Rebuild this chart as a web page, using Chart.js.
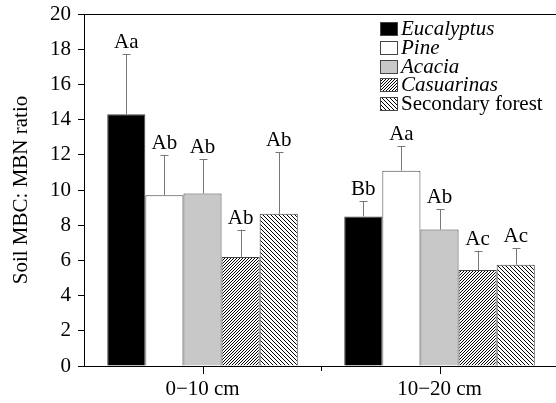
<!DOCTYPE html>
<html>
<head>
<meta charset="utf-8">
<script src="https://cdn.jsdelivr.net/npm/chart.js@4/dist/chart.umd.min.js"></script>
<style>
  html, body { margin: 0; padding: 0; background: #fff; overflow: hidden; }
  #wrap { width: 558px; height: 403px; }
</style>
</head>
<body>
<div id="wrap"><canvas id="mbcChart" width="558" height="403"></canvas></div>
<script>
const depths = ['0\u221210 cm', '10\u221220 cm'];
const species = ['Eucalyptus', 'Pine', 'Acacia', 'Casuarinas', 'Secondary forest'];
const italicNames = [true, true, true, true, false];
const eucalyptus = [14.3, 8.5];
const pine = [9.7, 11.1];
const acacia = [9.8, 7.75];
const casuarinas = [6.2, 5.45];
const secondary = [8.65, 5.75];
const eucalyptusErr = [3.4, 0.85];
const pineErr = [2.3, 1.4];
const acaciaErr = [1.95, 1.15];
const casuarinasErr = [1.55, 1.1];
const secondaryErr = [3.5, 0.95];
const eucalyptusSig = ['Aa', 'Bb'];
const pineSig = ['Ab', 'Aa'];
const acaciaSig = ['Ab', 'Ab'];
const casuarinasSig = ['Ab', 'Ac'];
const secondarySig = ['Ab', 'Ac'];
const yTicks = [0, 2, 4, 6, 8, 10, 12, 14, 16, 18, 20];

const FONT = '"Liberation Serif", "Times New Roman", serif';

document.addEventListener('DOMContentLoaded', function () {
  initChart();
});

function makeHatch(size, forward) {
  const c = document.createElement('canvas');
  c.width = size;
  c.height = size;
  const g = c.getContext('2d');
  g.fillStyle = '#fff';
  g.fillRect(0, 0, size, size);
  g.strokeStyle = '#000';
  g.lineWidth = 1;
  g.beginPath();
  if (forward) {
    g.moveTo(0, size);
    g.lineTo(size, 0);
    g.moveTo(-1, 1);
    g.lineTo(1, -1);
    g.moveTo(size - 1, size + 1);
    g.lineTo(size + 1, size - 1);
  } else {
    g.moveTo(0, 0);
    g.lineTo(size, size);
    g.moveTo(size - 1, -1);
    g.lineTo(size + 1, 1);
    g.moveTo(-1, size - 1);
    g.lineTo(1, size + 1);
  }
  g.stroke();
  return g.createPattern(c, 'repeat');
}

function initChart() {
  const ctx = document.getElementById('mbcChart').getContext('2d');
  const fills = ['#000', '#fff', '#c8c8c8', makeHatch(3, true), makeHatch(4, false)];
  const values = [eucalyptus, pine, acacia, casuarinas, secondary];
  const errors = [eucalyptusErr, pineErr, acaciaErr, casuarinasErr, secondaryErr];
  const sigs = [eucalyptusSig, pineSig, acaciaSig, casuarinasSig, secondarySig];

  const datasets = species.map(function (name, i) {
    return {
      label: name,
      data: values[i],
      errors: errors[i],
      sigs: sigs[i],
      backgroundColor: fills[i],
      borderColor: '#444',
      borderWidth: 1,
      borderSkipped: 'bottom',
      categoryPercentage: 0.804,
      barPercentage: 1,
    };
  });

  const extras = {
    id: 'extras',
    afterDatasetsDraw: function (chart) {
      const c = chart.ctx;
      const y = chart.scales.y;
      const area = chart.chartArea;

      // error bars and letters
      chart.data.datasets.forEach(function (ds, di) {
        const meta = chart.getDatasetMeta(di);
        meta.data.forEach(function (bar, j) {
          const top = y.getPixelForValue(ds.data[j] + ds.errors[j]);
          const bx = Math.round(bar.x) + 0.5;
          c.save();
          c.strokeStyle = '#777';
          c.lineWidth = 1;
          c.beginPath();
          c.moveTo(bx, bar.y);
          c.lineTo(bx, top);
          c.moveTo(bx - 4, Math.round(top) + 0.5);
          c.lineTo(bx + 4, Math.round(top) + 0.5);
          c.stroke();
          c.fillStyle = '#000';
          c.font = '21px ' + FONT;
          c.textAlign = 'center';
          c.textBaseline = 'alphabetic';
          c.fillText(ds.sigs[j], bar.x, top - 6);
          c.restore();
        });
      });

      // top frame line
      c.save();
      c.strokeStyle = '#000';
      c.lineWidth = 1;
      c.beginPath();
      c.moveTo(area.left, Math.round(area.top) + 0.5);
      c.lineTo(area.right, Math.round(area.top) + 0.5);
      c.stroke();

      // x ticks: category centres and the boundary between them
      const x = chart.scales.x;
      c.beginPath();
      depths.forEach(function (d, i) {
        const px = Math.round(x.getPixelForValue(i)) + 0.5;
        c.moveTo(px, area.bottom);
        c.lineTo(px, area.bottom + 8);
      });
      const mid = Math.round((x.getPixelForValue(0) + x.getPixelForValue(1)) / 2) + 0.5;
      c.moveTo(mid, area.bottom);
      c.lineTo(mid, area.bottom + 5);
      c.stroke();
      c.restore();

      // legend
      c.save();
      const lx = 380;
      const rowTop = [22, 41, 60, 78, 97];
      chart.data.datasets.forEach(function (ds, di) {
        const ty = rowTop[di];
        c.fillStyle = ds.backgroundColor;
        c.fillRect(lx, ty, 18, 14);
        c.strokeStyle = '#444';
        c.lineWidth = 1;
        c.strokeRect(lx + 0.5, ty + 0.5, 17, 13);
        c.fillStyle = '#000';
        c.font = (italicNames[di] ? 'italic ' : '') + '21px ' + FONT;
        c.textAlign = 'left';
        c.textBaseline = 'alphabetic';
        c.fillText(ds.label, lx + 21, ty + 13);
      });
      c.restore();
    },
  };

  new Chart(ctx, {
    type: 'bar',
    data: {
      labels: depths,
      datasets: datasets,
    },
    options: {
      responsive: false,
      animation: false,
      layout: { padding: { top: 14, right: 0, left: 0, bottom: 0 } },
      plugins: {
        legend: { display: false },
        tooltip: { enabled: false },
      },
      scales: {
        x: {
          grid: { display: false, drawTicks: false },
          border: { display: true, color: '#000', width: 1 },
          ticks: {
            color: '#000',
            font: { family: FONT, size: 21 },
            padding: 11,
          },
          afterFit: function (scale) {
            scale.height = 37;
            scale.paddingLeft = 0;
            scale.paddingRight = 0;
          },
        },
        y: {
          min: 0,
          max: 20,
          afterBuildTicks: function (scale) {
            scale.ticks = yTicks.map(function (v) { return { value: v }; });
          },
          grid: { drawOnChartArea: false, drawTicks: true, tickLength: 6, color: '#000' },
          border: { display: true, color: '#000', width: 1 },
          ticks: {
            color: '#000',
            font: { family: FONT, size: 21 },
            padding: 7,
          },
          title: {
            display: true,
            text: 'Soil MBC: MBN ratio',
            color: '#000',
            font: { family: FONT, size: 21 },
            padding: { top: 9, bottom: 0 },
          },
          afterFit: function (scale) {
            scale.width = 84;
            scale.paddingTop = 0;
            scale.paddingBottom = 0;
          },
        },
      },
    },
    plugins: [extras],
  });
}
</script>
</body>
</html>
